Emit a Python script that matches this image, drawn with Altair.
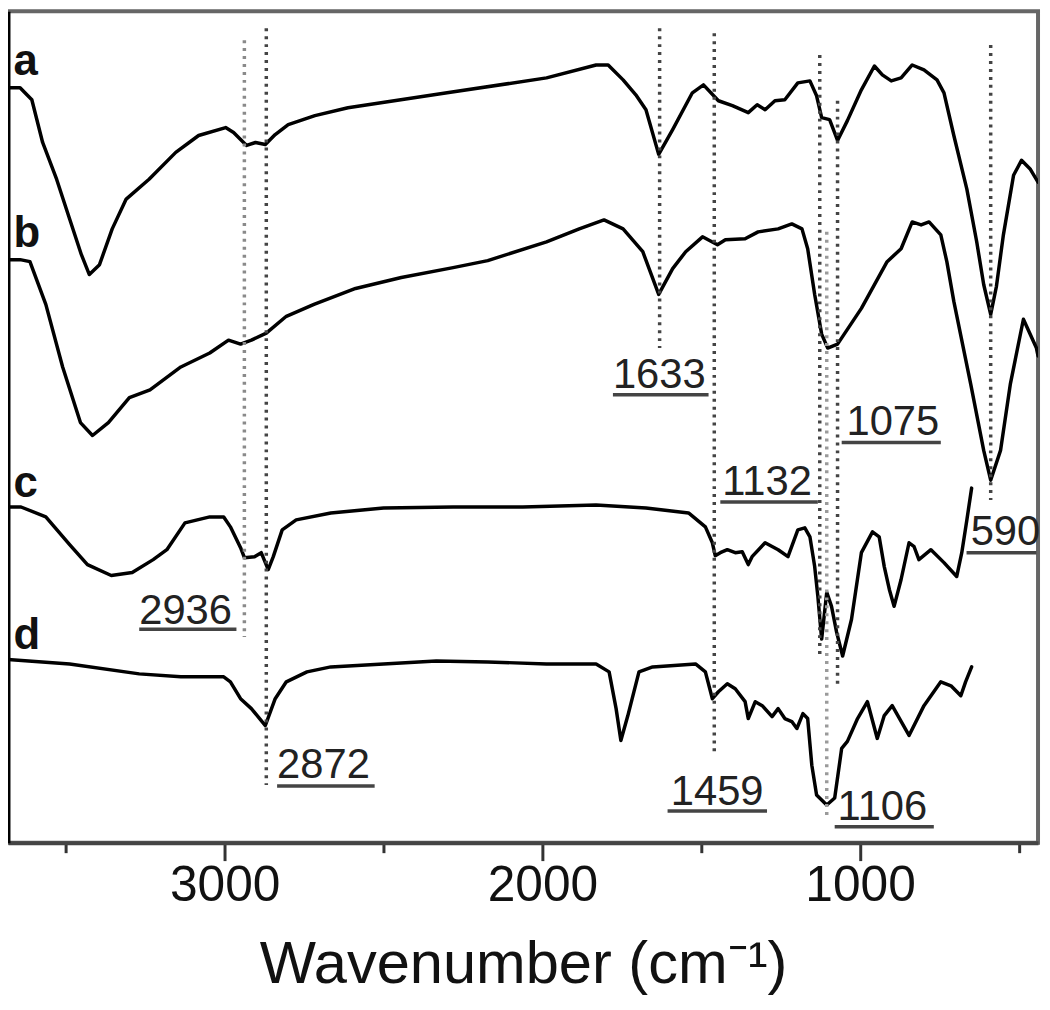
import altair as alt
import pandas as pd

# ---------------- data ----------------
a_wn = [3700, 3644, 3607, 3573, 3529, 3488, 3451, 3426, 3394, 3354, 3310, 3238, 3154, 3082, 2997,
        2972, 2931, 2903, 2872, 2841, 2800, 2716, 2612, 2300, 1987, 1831, 1793, 1746, 1706, 1674,
        1634, 1590, 1528, 1493, 1446, 1402, 1352, 1324, 1299, 1268, 1237, 1196, 1158, 1137, 1121,
        1096, 1071, 1040, 996, 955, 930, 902, 871, 836, 799, 758, 736, 705, 664, 633, 611, 589,
        571, 549, 517, 492, 464, 440]
a_val = [76.0, 76.0, 74.8, 70.5, 66.8, 62.8, 59.2, 57.2, 58.2, 61.8, 64.8, 66.8, 69.5, 71.2, 72.0,
         71.5, 70.2, 70.5, 70.3, 71.3, 72.3, 73.2, 74.0, 75.5, 77.0, 78.3, 78.3, 76.8, 75.3, 73.8,
         69.3, 71.8, 75.5, 76.3, 74.7, 74.2, 73.5, 74.3, 73.8, 74.7, 74.8, 76.5, 76.7, 75.2, 73.0,
         72.8, 70.7, 72.7, 75.8, 78.2, 77.3, 76.7, 77.0, 78.3, 77.8, 76.8, 75.5, 71.2, 65.8, 60.5,
         56.2, 53.2, 56.0, 61.2, 67.2, 68.7, 67.8, 66.5]

b_wn = [3700, 3644, 3613, 3563, 3510, 3454, 3416, 3366, 3300, 3235, 3138, 3047, 2988, 2950, 2916,
        2869, 2806, 2719, 2588, 2444, 2281, 2172, 1987, 1884, 1806, 1746, 1684, 1634, 1590, 1549,
        1496, 1449, 1424, 1362, 1321, 1258, 1215, 1183, 1165, 1143, 1121, 1102, 1071, 996, 915,
        871, 836, 808, 783, 746, 727, 705, 652, 611, 589, 558, 527, 486, 445, 440]
b_val = [58.7, 58.7, 58.5, 54.2, 47.9, 42.3, 41.0, 42.3, 44.8, 45.6, 47.9, 49.3, 50.6, 50.2, 50.6,
         51.3, 53.0, 54.2, 55.8, 56.9, 57.9, 58.6, 60.5, 61.8, 62.7, 61.8, 59.5, 55.2, 57.8, 59.5,
         61.0, 60.2, 60.7, 60.8, 61.5, 61.8, 62.3, 61.8, 59.8, 55.2, 51.2, 49.8, 50.2, 53.8, 58.5,
         59.8, 62.5, 62.2, 62.5, 61.2, 58.5, 54.5, 46.2, 39.5, 36.5, 39.5, 46.2, 52.7, 49.8, 49.0]

c_wn = [3700, 3641, 3563, 3488, 3432, 3357, 3291, 3225, 3182, 3125, 3047, 3003, 2982, 2950, 2938,
        2906, 2885, 2863, 2847, 2819, 2775, 2666, 2500, 2281, 2062, 1831, 1674, 1540, 1487, 1465,
        1456, 1440, 1418, 1393, 1371, 1352, 1340, 1299, 1258, 1227, 1196, 1174, 1158, 1143, 1133,
        1121, 1105, 1090, 1074, 1055, 1027, 996, 961, 940, 924, 908, 893, 871, 846, 830, 815, 777,
        736, 696, 680, 664, 649]
c_val = [33.8, 33.8, 32.8, 30.0, 28.0, 26.9, 27.2, 28.5, 29.5, 32.2, 32.8, 32.8, 31.8, 29.7, 28.7,
         28.8, 29.2, 27.5, 28.8, 31.5, 32.5, 33.2, 33.7, 33.8, 33.8, 34.0, 33.7, 33.2, 31.8, 30.2,
         28.9, 29.2, 29.5, 29.2, 29.3, 28.0, 28.8, 30.2, 29.5, 28.8, 31.5, 31.7, 30.8, 27.8, 24.8,
         20.5, 25.2, 23.8, 21.2, 18.8, 22.5, 29.2, 31.3, 30.8, 27.8, 25.5, 23.8, 26.5, 30.2, 29.8,
         28.5, 29.5, 28.2, 26.8, 29.2, 32.5, 35.7]

d_wn = [3700, 3488, 3269, 3138, 3003, 2982, 2950, 2916, 2872, 2841, 2806, 2741, 2666, 2500, 2334,
        2172, 1987, 1831, 1790, 1768, 1753, 1731, 1696, 1653, 1518, 1487, 1465, 1446, 1418, 1393,
        1362, 1352, 1330, 1308, 1277, 1258, 1237, 1215, 1199, 1180, 1165, 1152, 1137, 1105, 1080,
        1058, 1040, 1008, 977, 946, 924, 899, 846, 799, 746, 714, 683, 668, 649]
d_val = [18.5, 18.0, 17.0, 16.7, 16.7, 16.2, 14.5, 13.5, 11.8, 14.5, 16.2, 17.2, 17.7, 18.0, 18.3,
         18.2, 18.0, 18.0, 17.2, 13.5, 10.3, 12.8, 17.2, 17.7, 18.0, 17.2, 14.5, 15.2, 16.0, 15.5,
         14.2, 12.5, 14.2, 13.8, 12.7, 13.5, 12.5, 12.2, 11.5, 13.0, 12.5, 7.8, 4.8, 3.8, 4.5,
         9.5, 10.2, 12.5, 14.2, 10.5, 12.8, 13.8, 10.8, 13.8, 16.2, 15.8, 14.8, 16.2, 17.7]

series_names = ["a", "b", "c", "d"]
series_label_y = [77.3, 60.0, 34.8, 19.5]
series_label_x = [3665, 3665, 3665, 3665]

# dotted guide lines at the marked bands
peak_pos = [2938, 2869, 1631, 1459, 1127, 1105, 1071, 589]
peak_top = [80.8, 82.0, 82.0, 81.5, 79.3, 61.5, 74.7, 80.3]
peak_bottom = [20.7, 5.8, 49.8, 9.2, 19.0, 2.5, 15.5, 34.5]
peak_shade = ["#8a8a8a", "#444444", "#444444", "#444444", "#444444", "#9a9a9a", "#444444", "#444444"]

# underlined band labels
band_text = ["1633", "1075", "1132", "590", "2936", "2872", "1459", "1106"]
band_x = [1778, 1043, 1434, 652, 3269, 2835, 1596, 1071]
band_y = [45.8, 41.0, 35.0, 30.0, 22.0, 6.5, 3.8, 2.3]
uline_x1 = [1778, 1058, 1440, 665, 3269, 2835, 1606, 1080]
uline_x2 = [1477, 746, 1133, 445, 2963, 2528, 1293, 768]
uline_y = [45.1, 40.3, 34.3, 29.2, 21.5, 5.7, 3.2, 1.6]

tick_values = [3500, 3000, 2500, 2000, 1500, 1000, 500]

# ---------------- tables ----------------
rows = []
for name, wn, val in zip(series_names, [a_wn, b_wn, c_wn, d_wn], [a_val, b_val, c_val, d_val]):
    for i, (w, v) in enumerate(zip(wn, val)):
        rows.append({"series": name, "idx": i, "wn": w, "val": v})
spectra = pd.DataFrame(rows)

guides = pd.DataFrame({"wn": peak_pos, "top": peak_top, "bottom": peak_bottom, "shade": peak_shade})
bands = pd.DataFrame({"text": band_text, "wn": band_x, "val": band_y,
                      "x1": uline_x1, "x2": uline_x2, "uy": uline_y})
letters = pd.DataFrame({"text": series_names, "wn": series_label_x, "val": series_label_y})

FONT = "Liberation Sans"

xscale = alt.Scale(domain=[440, 3682], reverse=True, nice=False, zero=False)
yscale = alt.Scale(domain=[0, 83.7], nice=False, zero=False)

xaxis = alt.Axis(
    values=tick_values, format="d",
    labelExpr="datum.value % 1000 === 0 ? datum.label : ''",
    title="Wavenumber (cm\u207b\u00b9)",
    titleFont=FONT, titleFontSize=60, titleFontWeight="normal", titleColor="#111",
    titlePadding=26,
    labelFont=FONT, labelFontSize=50, labelColor="#111", labelPadding=0,
    tickSize={"condition": {"test": "datum.value % 1000 === 0", "value": 18}, "value": 10},
    tickWidth=3, tickColor="#333",
    domainColor="#444", domainWidth=4, grid=False,
)
yaxis = alt.Axis(title=None, labels=False, ticks=False, grid=False,
                 domainColor="#000", domainWidth=4)

base_x = alt.X("wn:Q", scale=xscale, axis=xaxis)

guide_layer = alt.Chart(guides).mark_rule(strokeDash=[3, 5], strokeWidth=3.5).encode(
    x=alt.X("wn:Q", scale=xscale),
    y=alt.Y("top:Q", scale=yscale),
    y2="bottom:Q",
    color=alt.Color("shade:N", scale=None),
)

line_layer = alt.Chart(spectra).mark_line(
    color="#000", strokeWidth=3.5, strokeJoin="round", strokeCap="round", clip=True
).encode(
    x=base_x,
    y=alt.Y("val:Q", scale=yscale, axis=yaxis),
    detail="series:N",
    order="idx:Q",
)

uline_layer = alt.Chart(bands).mark_rule(color="#444", strokeWidth=3.5).encode(
    x=alt.X("x1:Q", scale=xscale), x2="x2:Q",
    y=alt.Y("uy:Q", scale=yscale),
)

band_text_layer = alt.Chart(bands).mark_text(
    align="left", baseline="alphabetic", font=FONT, fontSize=42, color="#222"
).encode(
    x=alt.X("wn:Q", scale=xscale), y=alt.Y("val:Q", scale=yscale), text="text:N"
)

letter_layer = alt.Chart(letters).mark_text(
    align="left", baseline="alphabetic", font=FONT, fontSize=44, fontWeight="bold", color="#111"
).encode(
    x=alt.X("wn:Q", scale=xscale), y=alt.Y("val:Q", scale=yscale), text="text:N"
)

chart = alt.layer(line_layer, guide_layer, uline_layer, band_text_layer, letter_layer).properties(
    width=1037, height=837,
    padding={"left": 0, "top": 0, "right": 4, "bottom": 160},
    autosize=alt.AutoSizeParams(type="none"),
).configure(
    background="white",
    view=alt.ViewConfig(stroke="#666", strokeWidth=4),
)

chart.save("out.html", embed_options={"renderer": "svg", "actions": False})
